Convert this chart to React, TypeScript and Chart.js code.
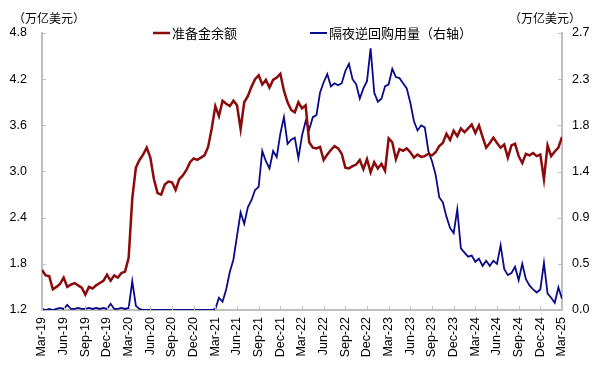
import React, { useEffect, useRef } from 'react';
import { Chart, registerables } from 'chart.js';

Chart.register(...registerables);

// half-month periods from 2019-03 to 2025-03
const categories: string[] = (() => {
  const out: string[] = [];
  for (let i = 0; i <= 144; i++) {
    const m = Math.floor(i / 2);
    const y = 2019 + Math.floor((2 + m) / 12);
    const mm = ((2 + m) % 12) + 1;
    out.push(`${y}-${String(mm).padStart(2, '0')}-${i % 2 === 0 ? '01' : '16'}`);
  }
  return out;
})();

const xTickLabels = [
  'Mar-19', 'Jun-19', 'Sep-19', 'Dec-19', 'Mar-20', 'Jun-20', 'Sep-20', 'Dec-20',
  'Mar-21', 'Jun-21', 'Sep-21', 'Dec-21', 'Mar-22', 'Jun-22', 'Sep-22', 'Dec-22',
  'Mar-23', 'Jun-23', 'Sep-23', 'Dec-23', 'Mar-24', 'Jun-24', 'Sep-24', 'Dec-24', 'Mar-25',
];
const leftTicks = [1.2, 1.8, 2.4, 3.0, 3.6, 4.2, 4.8];
const leftTickLabels = ['1.2', '1.8', '2.4', '3.0', '3.6', '4.2', '4.8'];
const rightTicks = [0, 0.45, 0.9, 1.35, 1.8, 2.25, 2.7];
const rightTickLabels = ['0.0', '0.5', '0.9', '1.4', '1.8', '2.3', '2.7'];

const seriesNames = ['准备金余额', '隔夜逆回购用量（右轴）'];
const unitLabel = '（万亿美元）';

// 准备金余额 (万亿美元)
const reserves = [
  1.72, 1.65, 1.64, 1.47, 1.50, 1.54, 1.62, 1.50, 1.53, 1.55, 1.52, 1.49, 1.40, 1.50, 1.48, 1.52, 1.55, 1.58, 1.66, 1.58, 1.65, 1.62, 1.68, 1.70,
  1.88, 2.65, 3.05, 3.15, 3.22, 3.31, 3.18, 2.90, 2.72, 2.70, 2.83, 2.87, 2.86, 2.76, 2.90, 2.95, 3.02, 3.12, 3.17, 3.15, 3.18, 3.21, 3.32, 3.56,
  3.85, 3.72, 3.92, 3.88, 3.85, 3.92, 3.86, 3.55, 3.90, 3.98, 4.10, 4.20, 4.25, 4.13, 4.19, 4.09, 4.19, 4.22, 4.27, 4.05, 3.90, 3.80, 3.77, 3.90,
  3.82, 3.86, 3.38, 3.31, 3.30, 3.32, 3.15, 3.22, 3.28, 3.33, 3.30, 3.23, 3.05, 3.04, 3.07, 3.09, 3.15, 3.03, 3.16, 2.99, 3.12, 3.04, 3.10, 3.01,
  3.43, 3.38, 3.16, 3.29, 3.27, 3.30, 3.25, 3.18, 3.22, 3.19, 3.20, 3.23, 3.21, 3.25, 3.33, 3.37, 3.49, 3.41, 3.53, 3.46, 3.56, 3.51, 3.56, 3.61,
  3.50, 3.60, 3.45, 3.31, 3.37, 3.44, 3.37, 3.31, 3.35, 3.18, 3.34, 3.36, 3.20, 3.11, 3.23, 3.21, 3.24, 3.20, 3.22, 2.90, 3.34, 3.20, 3.26, 3.31, 3.45,
];

// 隔夜逆回购用量 (万亿美元, 右轴)
const onrrp = [
  0.01, 0.00, 0.01, 0.00, 0.01, 0.02, 0.01, 0.05, 0.01, 0.01, 0.02, 0.01, 0.01, 0.02, 0.01, 0.02, 0.01, 0.02, 0.01, 0.06, 0.01, 0.01, 0.02, 0.01,
  0.02, 0.28, 0.04, 0.01, 0.00, 0.00, 0.00, 0.00, 0.00, 0.00, 0.00, 0.00, 0.00, 0.00, 0.00, 0.00, 0.00, 0.00, 0.00, 0.00, 0.00, 0.00, 0.00, 0.00,
  0.01, 0.12, 0.08, 0.20, 0.37, 0.49, 0.72, 0.95, 0.84, 1.00, 1.07, 1.17, 1.20, 1.55, 1.45, 1.38, 1.55, 1.49, 1.72, 1.88, 1.62, 1.66, 1.68, 1.48,
  1.70, 1.84, 1.76, 1.88, 1.90, 2.12, 2.22, 2.30, 2.18, 2.21, 2.19, 2.21, 2.33, 2.40, 2.25, 2.20, 2.06, 2.16, 2.23, 2.55, 2.12, 2.03, 2.06, 2.18,
  2.20, 2.35, 2.27, 2.26, 2.21, 2.16, 2.02, 1.84, 1.75, 1.80, 1.78, 1.55, 1.45, 1.32, 1.10, 1.05, 0.91, 0.80, 0.75, 0.98, 0.60, 0.56, 0.52, 0.53,
  0.47, 0.50, 0.43, 0.48, 0.43, 0.48, 0.45, 0.63, 0.40, 0.34, 0.36, 0.42, 0.29, 0.45, 0.30, 0.24, 0.20, 0.17, 0.20, 0.46, 0.16, 0.12, 0.07, 0.22, 0.11,
];

const RED = '#8b0a0a';
const BLUE = '#0a0a8c';
const AXIS = '#bfbfbf';
const SANS = '"Liberation Sans", Arial, sans-serif';
const CJK = '"Noto Sans CJK SC", "Noto Sans", sans-serif';

const decorPlugin = {
  id: 'decor',
  afterDraw(chart: any) {
    const { ctx, chartArea } = chart;
    const sx = chart.scales.x, sy = chart.scales.y, sy1 = chart.scales.y1;
    ctx.save();
    // inward tick marks
    ctx.strokeStyle = AXIS;
    ctx.lineWidth = 1;
    ctx.beginPath();
    xTickLabels.forEach((_, i) => {
      const px = Math.round(sx.getPixelForValue(i * 6)) + 0.5;
      ctx.moveTo(px, chartArea.bottom);
      ctx.lineTo(px, chartArea.bottom - 4);
    });
    leftTicks.forEach((v) => {
      const py = Math.round(sy.getPixelForValue(v)) + 0.5;
      ctx.moveTo(chartArea.left, py);
      ctx.lineTo(chartArea.left + 4, py);
    });
    rightTicks.forEach((v) => {
      const py = Math.round(sy1.getPixelForValue(v)) + 0.5;
      ctx.moveTo(chartArea.right, py);
      ctx.lineTo(chartArea.right - 4, py);
    });
    ctx.stroke();

    // unit labels
    ctx.fillStyle = '#000';
    ctx.font = `12px ${CJK}`;
    ctx.textBaseline = 'middle';
    ctx.textAlign = 'left';
    ctx.fillText(unitLabel, 13, 18);
    ctx.fillText(unitLabel, 509, 18);

    // legend
    const items = [
      { x: 153, color: RED, w: 2.5 },
      { x: 310, color: BLUE, w: 2 },
    ];
    ctx.font = `13px ${CJK}`;
    items.forEach((it, i) => {
      ctx.strokeStyle = it.color;
      ctx.lineWidth = it.w;
      ctx.beginPath();
      ctx.moveTo(it.x, 33);
      ctx.lineTo(it.x + 17, 33);
      ctx.stroke();
      ctx.fillStyle = '#000';
      ctx.fillText(chart.data.datasets[i].label, it.x + 19, 33);
    });
    ctx.restore();
  },
};

export default function App() {
  const ref = useRef<HTMLCanvasElement | null>(null);
  useEffect(() => {
    document.body.style.margin = '0';
    if (!ref.current) return;
    const chart = new Chart(ref.current, {
      type: 'line',
      data: {
        labels: categories,
        datasets: [
          {
            label: seriesNames[0],
            data: reserves.map((v, i) => ({ x: i, y: v })),
            borderColor: RED,
            backgroundColor: RED,
            borderWidth: 2.5,
            pointRadius: 0,
            tension: 0,
            yAxisID: 'y',
          },
          {
            label: seriesNames[1],
            data: onrrp.map((v, i) => ({ x: i, y: v })),
            borderColor: BLUE,
            backgroundColor: BLUE,
            borderWidth: 1.8,
            pointRadius: 0,
            tension: 0,
            yAxisID: 'y1',
          },
        ],
      },
      options: {
        animation: false,
        responsive: false,
        maintainAspectRatio: false,
        layout: { padding: { top: 33, left: 0, right: 0, bottom: 0 } },
        plugins: { legend: { display: false }, tooltip: { enabled: false }, title: { display: false } },
        scales: {
          x: {
            type: 'linear',
            min: 0,
            max: 144,
            grid: { display: true, drawOnChartArea: false, drawTicks: false, color: 'rgba(0,0,0,0)' },
            border: { display: true, color: AXIS, width: 2 },
            afterBuildTicks: (s: any) => { s.ticks = xTickLabels.map((_, i) => ({ value: i * 6 })); },
            afterFit: (s: any) => { s.height = 62; },
            ticks: {
              autoSkip: false,
              minRotation: 90,
              maxRotation: 90,
              padding: 7,
              color: '#000',
              font: { family: SANS, size: 12.5 },
              callback: (v: any) => xTickLabels[Math.round(Number(v) / 6)] ?? '',
            },
          },
          y: {
            type: 'linear',
            position: 'left',
            min: 1.2,
            max: 4.8,
            grid: { display: true, drawOnChartArea: false, drawTicks: false, color: 'rgba(0,0,0,0)' },
            border: { display: true, color: AXIS, width: 2 },
            afterBuildTicks: (s: any) => { s.ticks = leftTicks.map((v) => ({ value: v })); },
            afterFit: (s: any) => { s.width = 42; },
            ticks: {
              padding: 15,
              color: '#000',
              font: { family: SANS, size: 12.5 },
              callback: (v: any) => leftTickLabels[leftTicks.findIndex((t) => Math.abs(t - Number(v)) < 1e-6)] ?? '',
            },
          },
          y1: {
            type: 'linear',
            position: 'right',
            min: 0,
            max: 2.7,
            grid: { display: true, drawOnChartArea: false, drawTicks: false, color: 'rgba(0,0,0,0)' },
            border: { display: true, color: AXIS, width: 2 },
            afterBuildTicks: (s: any) => { s.ticks = rightTicks.map((v) => ({ value: v })); },
            afterFit: (s: any) => { s.width = 47; },
            ticks: {
              padding: 10,
              color: '#000',
              font: { family: SANS, size: 12.5 },
              callback: (v: any) => rightTickLabels[rightTicks.findIndex((t) => Math.abs(t - Number(v)) < 1e-6)] ?? '',
            },
          },
        },
      },
      plugins: [decorPlugin],
    });
    return () => chart.destroy();
  }, []);
  return (
    <div style={{ width: 609, height: 372, background: '#fff' }}>
      <canvas ref={ref} width={609} height={372} style={{ display: 'block', width: 609, height: 372 }} />
    </div>
  );
}
